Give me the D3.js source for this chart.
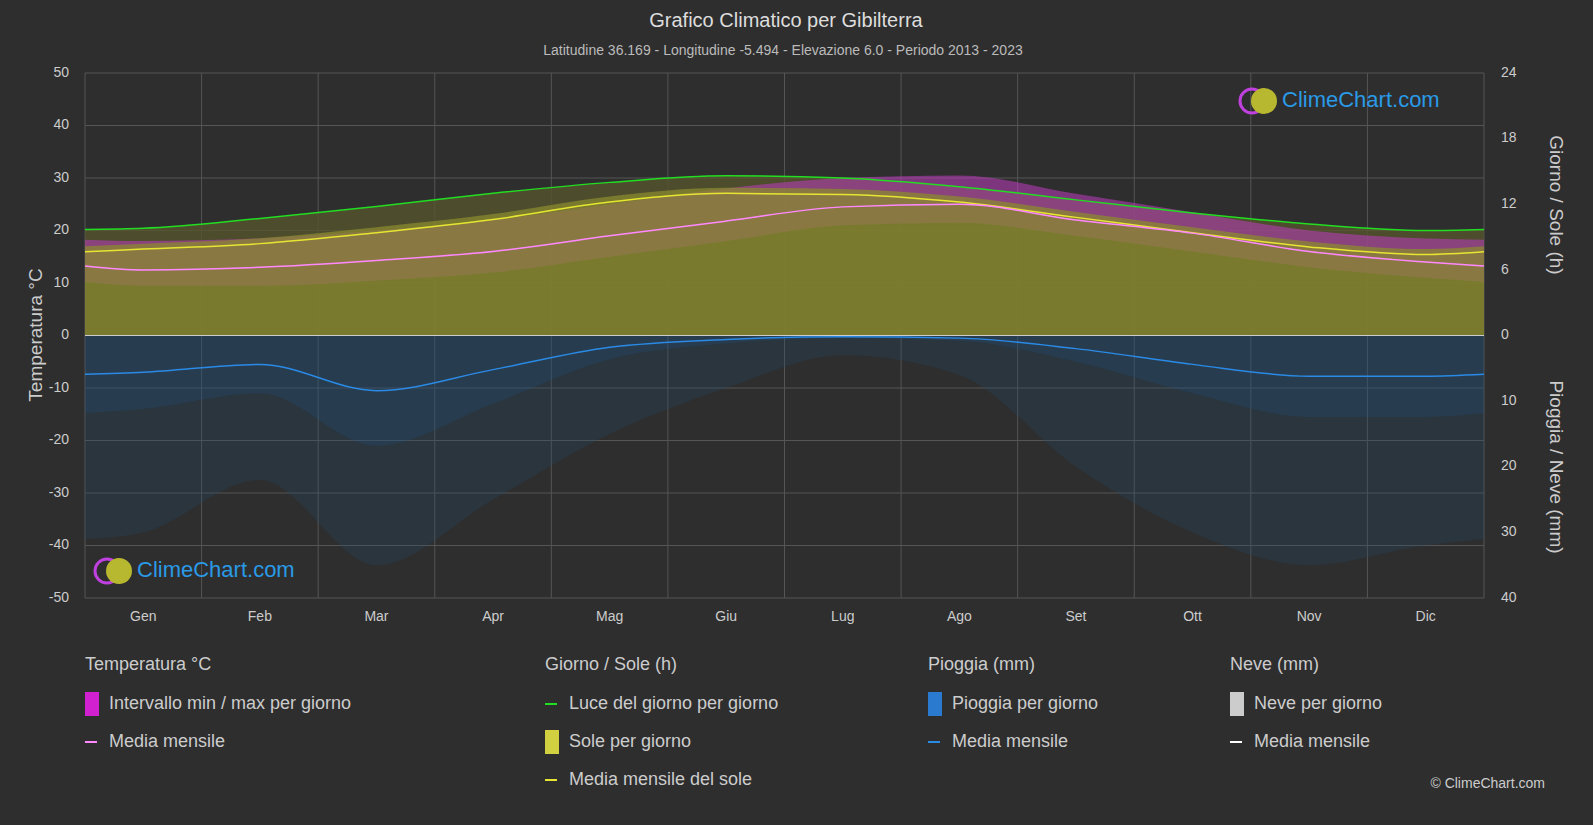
<!DOCTYPE html><html><head><meta charset="utf-8"><script src="https://cdn.jsdelivr.net/npm/d3@7"></script>
<style>body{margin:0;background:#2e2e2e;font-family:"Liberation Sans",Arial,sans-serif}</style></head><body><svg id="c" width="1593" height="825"></svg><script>
const months=["Gen","Feb","Mar","Apr","Mag","Giu","Lug","Ago","Set","Ott","Nov","Dic"];
const tempMean=[12.5,13,14.3,16,19,21.8,24.5,25,22,19.5,16,14];
const tempMax=[18,18.5,20,22,25,28,30,30.5,27,23.5,20,18.5];
const tempMin=[9.5,9.5,10.5,12,15,18,21,21.5,19,16,13,11];
const daylight=[9.8,10.7,11.8,13,14,14.6,14.4,13.6,12.4,11.2,10.2,9.6];
const sunMean=[7.9,8.4,9.4,10.6,12.2,13,12.9,12.2,10.8,9.4,8.1,7.4];
const rainMean=[5.6,4.4,8.4,5.2,1.8,0.6,0.2,0.4,2,4.4,6.2,6.2];
const rainMax=[30,22,35,25,15,8,3,6,20,30,35,32];
const leftTicks=[50,40,30,20,10,0,-10,-20,-30,-40,-50];
const sunTicks=[0,6,12,18,24], rainTicks=[0,10,20,30,40];
const svg=d3.select("#c");
const L=85,R=1484,T=73,B=598;
const x=d3.scaleLinear().domain([0,12]).range([L,R]);
const y=d3.scaleLinear().domain([-50,50]).range([B,T]);
const ys=d3.scaleLinear().domain([0,24]).range([y(0),T]);
const yr=d3.scaleLinear().domain([0,40]).range([y(0),B]);
const mid=months.map((m,i)=>i+0.5);
const ext=a=>[[0,(a[0]+a[11])/2],...a.map((v,i)=>[mid[i],v]),[12,(a[0]+a[11])/2]];
svg.append("rect").attr("x",L).attr("y",T).attr("width",R-L).attr("height",B-T).attr("fill","#2e2e2e");
leftTicks.forEach(t=>svg.append("line").attr("x1",L).attr("x2",R).attr("y1",y(t)).attr("y2",y(t)).attr("stroke","#555"));
for(let i=0;i<=12;i++)svg.append("line").attr("x1",x(i)).attr("x2",x(i)).attr("y1",T).attr("y2",B).attr("stroke","#555");
const cm=d3.curveMonotoneX;
svg.append("path").datum(ext(daylight)).attr("fill","#55552e").attr("opacity",0.8).attr("d",d3.area().x(d=>x(d[0])).y0(y(0)).y1(d=>ys(d[1])).curve(cm));
const bd=ext(tempMax).map((d,i)=>[d[0],d[1],ext(tempMin)[i][1]]);
svg.append("path").datum(bd).attr("fill","#c03cc0").attr("opacity",0.55).attr("d",d3.area().x(d=>x(d[0])).y0(d=>y(d[2])).y1(d=>y(d[1])).curve(cm));
svg.append("path").datum(ext(sunMean.map(v=>v+0.5))).attr("fill","#8a8a30").attr("opacity",0.75).attr("d",d3.area().x(d=>x(d[0])).y0(y(0)).y1(d=>ys(d[1])).curve(cm));
svg.append("path").datum(ext(rainMax)).attr("fill","#1f4a6e").attr("opacity",0.25).attr("d",d3.area().x(d=>x(d[0])).y0(y(0)).y1(d=>yr(d[1])).curve(cm));
svg.append("path").datum(ext(rainMean.map(v=>v*2))).attr("fill","#1f5580").attr("opacity",0.25).attr("d",d3.area().x(d=>x(d[0])).y0(y(0)).y1(d=>yr(d[1])).curve(cm));
const line=(a,sc,c)=>svg.append("path").datum(ext(a)).attr("fill","none").attr("stroke",c).attr("stroke-width",1.5).attr("d",d3.line().x(d=>x(d[0])).y(d=>sc(d[1])).curve(cm));
line(daylight,ys,"#22dd22");line(sunMean,ys,"#e6e632");line(tempMean,y,"#ff88ff");line(rainMean,yr,"#2a8ae6");
svg.append("line").attr("x1",L).attr("x2",R).attr("y1",y(0)).attr("y2",y(0)).attr("stroke","#ccc");
const tx=(X,Y,s,o={})=>svg.append("text").attr("x",X).attr("y",Y).text(s).attr("fill",o.c||"#ccc").attr("font-size",o.s||14).attr("text-anchor",o.a||"middle").attr("dominant-baseline","middle");
leftTicks.forEach(t=>tx(L-16,y(t),t,{a:"end"}));
sunTicks.forEach(t=>tx(R+17,ys(t),t,{a:"start"}));
rainTicks.slice(1).forEach(t=>tx(R+17,yr(t),t,{a:"start"}));
months.forEach((m,i)=>tx(x(mid[i]),617,m));
tx(786,22,"Grafico Climatico per Gibilterra",{s:20,c:"#ddd"});
tx(783,51,"Latitudine 36.169 - Longitudine -5.494 - Elevazione 6.0 - Periodo 2013 - 2023",{s:14,c:"#bbb"});
svg.append("text").attr("transform","translate(37,335) rotate(-90)").attr("text-anchor","middle").attr("dominant-baseline","middle").attr("fill","#ccc").attr("font-size",19).text("Temperatura °C");
svg.append("text").attr("transform","translate(1555,205) rotate(90)").attr("text-anchor","middle").attr("dominant-baseline","middle").attr("fill","#ccc").attr("font-size",19).text("Giorno / Sole (h)");
svg.append("text").attr("transform","translate(1555,467) rotate(90)").attr("text-anchor","middle").attr("dominant-baseline","middle").attr("fill","#ccc").attr("font-size",19).text("Pioggia / Neve (mm)");
function logo(X,Y,s){svg.append("circle").attr("cx",X).attr("cy",Y).attr("r",12).attr("fill","none").attr("stroke","#c040e0").attr("stroke-width",3);
svg.append("circle").attr("cx",X+12).attr("cy",Y).attr("r",13).attr("fill","#b8b830");
tx(X+30,Y,"ClimeChart.com",{a:"start",s:s,c:"#2a9ae6"});}
logo(1252,101,22);logo(107,571,22);
tx(1545,784,"© ClimeChart.com",{a:"end",s:14});
const h=(X,s)=>tx(X,665,s,{a:"start",s:18});
h(85,"Temperatura °C");h(545,"Giorno / Sole (h)");h(928,"Pioggia (mm)");h(1230,"Neve (mm)");
const sw=(X,Y,c)=>svg.append("rect").attr("x",X).attr("y",Y-12).attr("width",14).attr("height",24).attr("fill",c);
const ln=(X,Y,c)=>svg.append("line").attr("x1",X).attr("x2",X+12).attr("y1",Y).attr("y2",Y).attr("stroke",c).attr("stroke-width",2);
const it=(X,Y,s)=>tx(X+24,Y,s,{a:"start",s:18});
sw(85,704,"#d020d0");it(85,704,"Intervallo min / max per giorno");
ln(85,742,"#ff88ff");it(85,742,"Media mensile");
ln(545,704,"#22dd22");it(545,704,"Luce del giorno per giorno");
sw(545,742,"#d0d040");it(545,742,"Sole per giorno");
ln(545,780,"#e6e632");it(545,780,"Media mensile del sole");
sw(928,704,"#2a7ad0");it(928,704,"Pioggia per giorno");
ln(928,742,"#2a8ae6");it(928,742,"Media mensile");
sw(1230,704,"#cccccc");it(1230,704,"Neve per giorno");
ln(1230,742,"#ffffff");it(1230,742,"Media mensile");
</script></body></html>
